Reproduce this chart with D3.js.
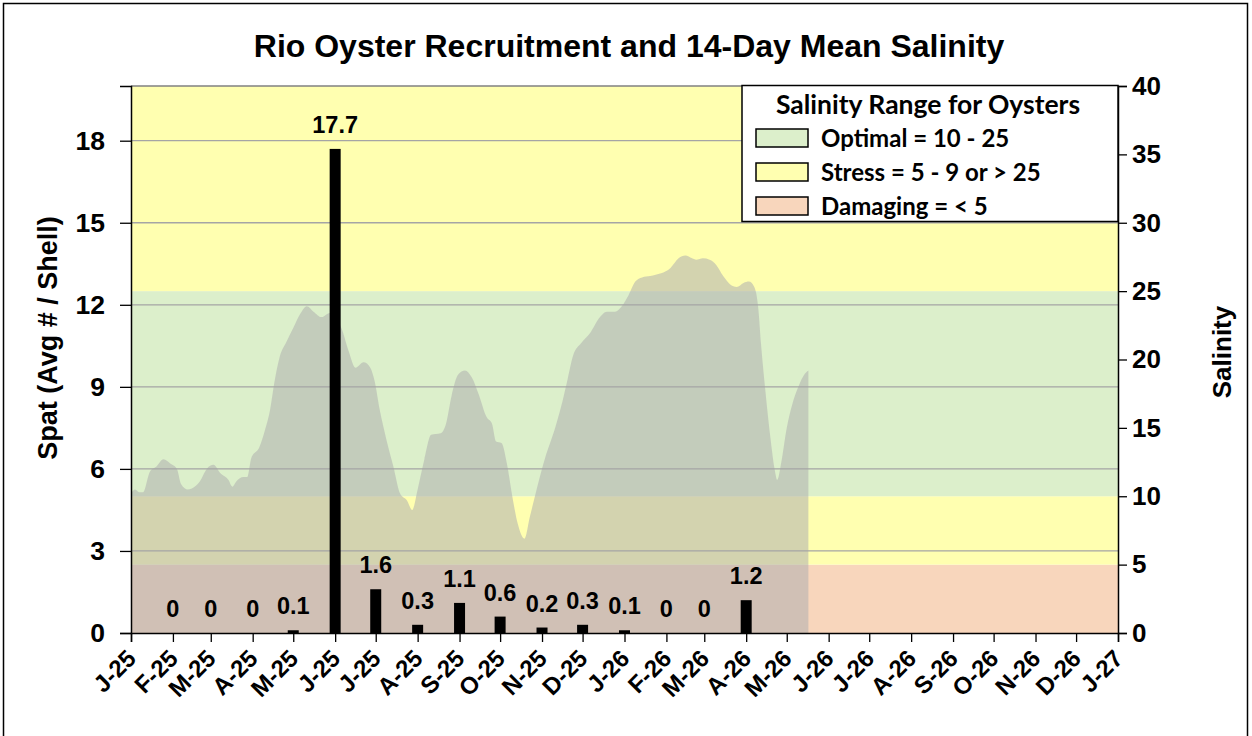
<!DOCTYPE html>
<html>
<head>
<meta charset="utf-8">
<script src="https://cdn.jsdelivr.net/npm/d3@7"></script>
<style>
  html, body { margin: 0; padding: 0; background: #ffffff; }
  svg { display: block; }
  text { font-family: "Liberation Sans", Arial, sans-serif; font-weight: bold; fill: #000; }
  .legend text { font-family: Lato, "Open Sans", sans-serif; }
</style>
</head>
<body>
<svg id="chart" width="1252" height="736"></svg>
<script>
// ---------------- DATA ----------------
const chartTitle = "Rio Oyster Recruitment and 14-Day Mean Salinity";
const leftAxisTitle = "Spat (Avg # / Shell)";
const rightAxisTitle = "Salinity";

// Monthly spat recruitment (bars)
const spatDates  = ["2025-02-01","2025-03-01","2025-04-01","2025-05-01","2025-06-01","2025-07-01","2025-08-01",
                    "2025-09-01","2025-10-01","2025-11-01","2025-12-01","2026-01-01","2026-02-01","2026-03-01","2026-04-01"];
const spatValues = [0, 0, 0, 0.1, 17.7, 1.6, 0.3, 1.1, 0.6, 0.2, 0.3, 0.1, 0, 0, 1.2];

// 14-day mean salinity (area)
const salinityDates = [
  "2025-01-01","2025-01-04","2025-01-07","2025-01-10","2025-01-15","2025-01-20","2025-01-25","2025-01-30",
  "2025-02-04","2025-02-07","2025-02-12","2025-02-17","2025-02-21","2025-02-26","2025-03-03","2025-03-08",
  "2025-03-14","2025-03-17","2025-03-20","2025-03-25","2025-03-28","2025-03-31","2025-04-06","2025-04-10",
  "2025-04-14","2025-04-17","2025-04-21","2025-04-26","2025-05-01","2025-05-06","2025-05-11","2025-05-16",
  "2025-05-22","2025-05-28","2025-06-02","2025-06-06","2025-06-11","2025-06-16","2025-06-22","2025-06-27",
  "2025-06-30","2025-07-04","2025-07-09","2025-07-14","2025-07-19","2025-07-24","2025-07-28","2025-08-01",
  "2025-08-06","2025-08-11","2025-08-18","2025-08-22","2025-08-26","2025-08-31","2025-09-05","2025-09-10",
  "2025-09-15","2025-09-21","2025-09-25","2025-09-28","2025-10-02","2025-10-06","2025-10-10","2025-10-14",
  "2025-10-19","2025-10-23","2025-10-28","2025-11-03","2025-11-11","2025-11-16","2025-11-20","2025-11-24",
  "2025-11-30","2025-12-07","2025-12-13","2025-12-19","2025-12-25","2025-12-30","2026-01-04","2026-01-09",
  "2026-01-14","2026-01-20","2026-01-24","2026-01-28","2026-02-04","2026-02-10","2026-02-15","2026-02-20",
  "2026-02-23","2026-02-28","2026-03-05","2026-03-10","2026-03-15","2026-03-20","2026-03-25","2026-03-30",
  "2026-04-03","2026-04-07","2026-04-10","2026-04-12","2026-04-15","2026-04-19","2026-04-22","2026-04-24",
  "2026-04-27","2026-05-01","2026-05-05","2026-05-10","2026-05-14","2026-05-17"
];
const salinityValues = [
  10.2, 10.5, 10.3, 10.3, 11.8, 12.2, 12.7, 12.4,
  12.0, 10.9, 10.5, 10.7, 11.1, 12.0, 12.3, 11.7,
  11.2, 10.7, 11.1, 11.4, 11.4, 12.8, 13.6, 14.8,
  16.4, 18.3, 20.2, 21.3, 22.3, 23.3, 23.9, 23.5,
  23.1, 23.4, 23.0, 22.2, 20.6, 19.4, 19.8, 19.4,
  18.5, 16.3, 14.1, 12.2, 10.2, 9.7, 9.0, 10.5,
  12.7, 14.5, 14.6, 15.3, 17.3, 18.9, 19.2, 18.7,
  17.5, 15.8, 15.3, 14.0, 13.9, 12.4, 10.0, 8.0,
  6.9, 8.5, 10.5, 12.7, 15.1, 16.9, 18.6, 20.3,
  21.2, 22.0, 23.0, 23.5, 23.5, 23.9, 24.7, 25.7,
  26.0, 26.1, 26.2, 26.3, 26.7, 27.4, 27.6, 27.4,
  27.3, 27.4, 27.3, 26.9, 26.1, 25.5, 25.3, 25.6,
  25.7, 25.3, 23.7, 21.1, 17.9, 14.2, 12.0, 11.2,
  12.5, 15.0, 16.7, 18.1, 18.9, 19.2
];

// Salinity ranges (background bands)
const bandNames = ["Damaging", "Stress", "Optimal", "Stress"];
const bandLow   = [0, 5, 10, 25];
const bandHigh  = [5, 10, 25, 40];

// Axes
const leftTicks  = [0, 3, 6, 9, 12, 15, 18];
const rightTicks = [0, 5, 10, 15, 20, 25, 30, 35, 40];
const xTickDates = ["2025-01-01","2025-02-01","2025-03-01","2025-04-01","2025-05-01","2025-06-01","2025-07-01",
                    "2025-08-01","2025-09-01","2025-10-01","2025-11-01","2025-12-01","2026-01-01","2026-02-01",
                    "2026-03-01","2026-04-01","2026-05-01","2026-06-01","2026-07-01","2026-08-01","2026-09-01",
                    "2026-10-01","2026-11-01","2026-12-01","2027-01-01"];
const xTickLabels = ["J-25","F-25","M-25","A-25","M-25","J-25","J-25","A-25","S-25","O-25","N-25","D-25",
                     "J-26","F-26","M-26","A-26","M-26","J-26","J-26","A-26","S-26","O-26","N-26","D-26","J-27"];

// Legend
const legendTitle = "Salinity Range for Oysters";
const legendKeys   = ["Optimal", "Stress", "Damaging"];
const legendLabels = ["Optimal = 10 - 25", "Stress = 5 - 9 or > 25", "Damaging = < 5"];

// ---------------- STYLE ----------------
const bandColor = { Damaging: "#F8D6BC", Stress: "#FFFFB0", Optimal: "#DCEFCB" };
const plot = { left: 131, right: 1118, top: 86, bottom: 633 };

// ---------------- DRAW ----------------
const parse = d3.timeParse("%Y-%m-%d");
const svg = d3.select("#chart");

const x = d3.scaleTime()
  .domain([parse("2025-01-01"), parse("2027-01-01")])
  .range([plot.left, plot.right]);
const yL = d3.scaleLinear().domain([0, 20]).range([plot.bottom, plot.top]);
const yR = d3.scaleLinear().domain([0, 40]).range([plot.bottom, plot.top]);

// outer chart border
svg.append("rect").attr("x", 3.5).attr("y", 3.5).attr("width", 1244).attr("height", 745)
  .attr("fill", "#fff").attr("stroke", "#000").attr("stroke-width", 1.5);

// bands
svg.append("g").selectAll("rect").data(bandNames).join("rect")
  .attr("x", plot.left).attr("width", plot.right - plot.left)
  .attr("y", (d, i) => yR(bandHigh[i]))
  .attr("height", (d, i) => yR(bandLow[i]) - yR(bandHigh[i]))
  .attr("fill", d => bandColor[d]);

// salinity area
const salData = salinityDates.map((d, i) => ({ date: parse(d), v: salinityValues[i] }));
svg.append("path").datum(salData)
  .attr("d", d3.area().x(d => x(d.date)).y0(yR(0)).y1(d => yR(d.v)).curve(d3.curveMonotoneX))
  .attr("fill", "#AEAEAE").attr("fill-opacity", 0.55);

// gridlines
svg.append("g").selectAll("line").data(leftTicks.filter(t => t > 0)).join("line")
  .attr("x1", plot.left).attr("x2", plot.right)
  .attr("y1", d => yL(d)).attr("y2", d => yL(d))
  .attr("stroke", "#A5A5A5").attr("stroke-width", 1.3);

// plot top border
svg.append("line").attr("x1", plot.left).attr("x2", plot.right).attr("y1", plot.top).attr("y2", plot.top)
  .attr("stroke", "#808080").attr("stroke-width", 1.3);

// bars
const barW = 11;
const spatData = spatDates.map((d, i) => ({ date: parse(d), v: spatValues[i] }));
svg.append("g").selectAll("rect").data(spatData).join("rect")
  .attr("x", d => x(d.date) - barW / 2).attr("width", barW)
  .attr("y", d => yL(d.v)).attr("height", d => yL(0) - yL(d.v))
  .attr("fill", "#000");

svg.append("g").selectAll("text").data(spatData).join("text")
  .attr("x", d => x(d.date)).attr("y", d => yL(d.v) - 16)
  .attr("text-anchor", "middle").style("font-size", "23.5px")
  .text(d => d3.format("")(d.v));

// left axis
const axL = svg.append("g").attr("transform", `translate(${plot.left},0)`)
  .call(d3.axisLeft(yL).tickValues(leftTicks).tickSize(11).tickPadding(15).tickFormat(d3.format("d")));
// right axis
const axR = svg.append("g").attr("transform", `translate(${plot.right},0)`)
  .call(d3.axisRight(yR).tickValues(rightTicks).tickSize(9).tickPadding(5).tickFormat(d3.format("d")));
// bottom axis
const xTicks = xTickDates.map(parse);
const axB = svg.append("g").attr("transform", `translate(0,${plot.bottom})`)
  .call(d3.axisBottom(x).tickValues(xTicks).tickSize(9).tickFormat((d, i) => xTickLabels[i]));

[axL, axR, axB].forEach(a => {
  a.select(".domain").attr("stroke", "#000").attr("stroke-width", 1.5);
  a.selectAll(".tick line").attr("stroke", "#000").attr("stroke-width", 1.3);
  a.selectAll("text").style("font-family", "'Liberation Sans', Arial, sans-serif").style("font-weight", "bold");
});
axL.selectAll("text").style("font-size", "26.5px");
axR.selectAll("text").style("font-size", "26px");
axB.selectAll(".tick text")
  .style("font-size", "24px")
  .attr("text-anchor", "end")
  .attr("dy", "0.35em")
  .attr("y", 0)
  .attr("transform", "translate(0,21) rotate(-45)");

// titles
svg.append("text").attr("x", 629).attr("y", 57).attr("text-anchor", "middle")
  .style("font-size", "32px").text(chartTitle);
svg.append("text").attr("transform", "translate(57,338) rotate(-90)").attr("text-anchor", "middle")
  .style("font-size", "27px").text(leftAxisTitle);
svg.append("text").attr("transform", "translate(1231,352) rotate(-90)").attr("text-anchor", "middle")
  .style("font-size", "26px").text(rightAxisTitle);

// legend
const lg = svg.append("g").attr("class", "legend");
lg.append("rect").attr("x", 742).attr("y", 85.5).attr("width", 376).attr("height", 136)
  .attr("fill", "#fff").attr("stroke", "#000").attr("stroke-width", 1.5);
lg.append("text").attr("x", 928).attr("y", 114).attr("text-anchor", "middle")
  .style("font-size", "26.5px").text(legendTitle);
const li = lg.selectAll("g.item").data(legendKeys).join("g").attr("class", "item")
  .attr("transform", (d, i) => `translate(0,${i * 34})`);
li.append("rect").attr("x", 756).attr("y", 129).attr("width", 52).attr("height", 18)
  .attr("fill", d => bandColor[d]).attr("stroke", "#000").attr("stroke-width", 1.5);
li.append("text").attr("x", 821).attr("y", 146.5).style("font-size", "24px")
  .text((d, i) => legendLabels[i]);
</script>
</body>
</html>
